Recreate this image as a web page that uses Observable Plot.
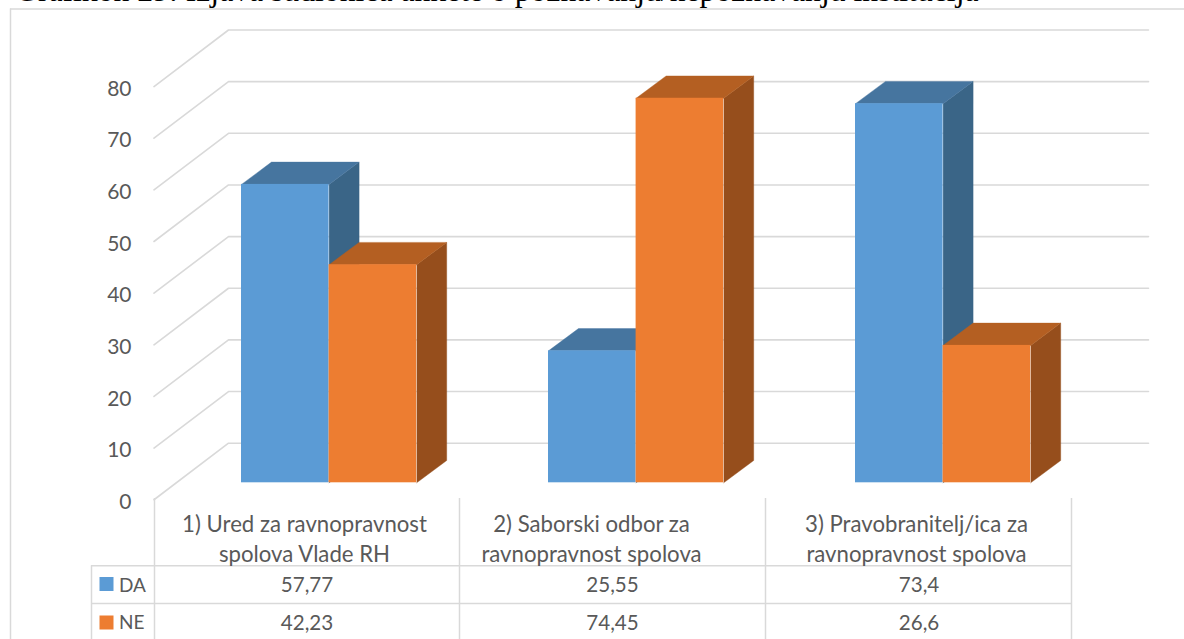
<!DOCTYPE html>
<html>
<head>
<meta charset="utf-8">
<script src="https://cdn.jsdelivr.net/npm/d3@7"></script>
<script src="https://cdn.jsdelivr.net/npm/@observablehq/plot@0.6"></script>
<style>
  html, body { margin: 0; padding: 0; background: #fff; overflow: hidden; }
  #wrap { position: relative; width: 1184px; height: 639px; overflow: hidden; }
  #title { position: absolute; left: 15px; top: -23px; font: 31.7px/28px "Liberation Serif", serif; color: #000; white-space: nowrap; z-index: 2; }
  svg { display: block; }
</style>
</head>
<body>
<div id="wrap">
  <div id="title">Grafikon 29: Izjava sudionica ankete o poznavanju/nepoznavanju institucija</div>
</div>
<script>
const categories = [
  "1) Ured za ravnopravnost\nspolova Vlade RH",
  "2) Saborski odbor za\nravnopravnost spolova",
  "3) Pravobranitelj/ica za\nravnopravnost spolova"
];
const seriesNames = ["DA", "NE"];
const daValues = [57.77, 25.55, 73.4];
const neValues = [42.23, 74.45, 26.6];
const tickValues = [0, 10, 20, 30, 40, 50, 60, 70, 80];

const W = 1184, H = 639;
const font = "Lato, Carlito, sans-serif";
const textColor = "#595959", gridColor = "#D9D9D9";
const palette = {
  DA: {front: "#5B9BD5", top: "#46759F", side: "#3A6587"},
  NE: {front: "#ED7D31", top: "#B45F22", side: "#964E1C"}
};

// Scale geometry: one x unit is a category pitch, one y unit is one value unit.
const pitch = 307, firstBar = 241, pxPerValue = 5.165, zeroPx = 442.7;
const u = px => (px - firstBar) / pitch;
const vAt = py => (zeroPx - py) / pxPerValue;
const barW = u(firstBar + 87.6);
const depthX = u(firstBar + 30), depthY = 22.3 / pxPerValue;
const base = vAt(482.3);

const bars = name => (name === "DA" ? daValues : neValues).map((value, i) => {
  const s = seriesNames.indexOf(name);
  const x1 = i + s * barW, x2 = x1 + barW, top = base + value;
  return {id: `${name}${i}`, x1, x2, y1: base, y2: top};
});
const sideFaces = name => bars(name).flatMap(b => [
  {id: b.id, x: b.x2, y: b.y1},
  {id: b.id, x: b.x2 + depthX, y: b.y1 + depthY},
  {id: b.id, x: b.x2 + depthX, y: b.y2 + depthY},
  {id: b.id, x: b.x2, y: b.y2}
]);
const topFaces = name => bars(name).flatMap(b => [
  {id: b.id, x: b.x1, y: b.y2},
  {id: b.id, x: b.x1 + depthX, y: b.y2 + depthY},
  {id: b.id, x: b.x2 + depthX, y: b.y2 + depthY},
  {id: b.id, x: b.x2, y: b.y2}
]);
const barMarks = name => {
  const c = palette[name];
  return [
    Plot.line(sideFaces(name), {x: "x", y: "y", z: "id", fill: c.side, stroke: c.side, strokeWidth: 0.4}),
    Plot.line(topFaces(name), {x: "x", y: "y", z: "id", fill: c.top, stroke: c.top, strokeWidth: 0.4}),
    Plot.rect(bars(name), {x1: "x1", x2: "x2", y1: "y1", y2: "y2", fill: c.front})
  ];
};

// Grid: a floor diagonal then the back-wall line, per tick.
const gridFrontX = u(153.5), gridBackX = u(228), gridEndX = u(1148), frontShift = 10.95;
const gridPaths = tickValues.flatMap(v => [
  {v, x: gridFrontX, y: v - frontShift},
  {v, x: gridBackX, y: v},
  {v, x: gridEndX, y: v}
]);

// Data table under the chart.
const tableCols = [154, 459, 765, 1071].map(u);
const tableLeft = u(91);
const rowY = [vAt(565.3), vAt(603)];
const tableTop = vAt(498), tableBottom = vAt(H);
const cellCenters = [306.5, 612, 918.5].map(u);
const categoryCenters = [304, 591, 916].map(u);
const rowTextY = [vAt(585), vAt(622.7)];
const format = v => String(v).replace(".", ",");
const cellRows = [daValues, neValues].flatMap((vals, r) =>
  vals.map((v, i) => ({x: cellCenters[i], y: rowTextY[r], label: format(v)})));
const legendRows = seriesNames.map((name, r) => ({name, y: rowTextY[r], sw: [vAt(583.5), vAt(622)][r]}));

const chart = Plot.plot({
  width: W, height: H,
  marginTop: 0, marginRight: 0, marginBottom: 0, marginLeft: 131,
  style: {fontFamily: font, background: "transparent", overflow: "hidden"},
  x: {domain: [u(0), u(W)], range: [0, W], axis: null},
  y: {domain: [vAt(H), vAt(0)], range: [H, 0]},
  marks: [
    // outer chart-area border
    Plot.ruleX([u(10)], {y1: vAt(8.5), y2: vAt(H), stroke: gridColor, strokeWidth: 1.5}),
    Plot.ruleY([vAt(8.5)], {x1: u(10), x2: u(W), stroke: gridColor, strokeWidth: 1.5}),
    Plot.line(gridPaths, {x: "x", y: "y", z: "v", stroke: gridColor, strokeWidth: 1.6}),
    Plot.axisY(tickValues, {anchor: "left", tickSize: 0, tickPadding: 0, dy: 59, fontSize: 21, color: textColor, label: null, tickFormat: d => String(d)}),
    ...barMarks("DA"),
    ...barMarks("NE"),
    // table lines
    Plot.ruleX(tableCols, {y1: tableTop, y2: tableBottom, stroke: gridColor, strokeWidth: 1.5}),
    Plot.ruleX([tableLeft], {y1: rowY[0], y2: tableBottom, stroke: gridColor, strokeWidth: 1.5}),
    Plot.ruleY(rowY, {x1: tableLeft, x2: tableCols[3], stroke: gridColor, strokeWidth: 1.5}),
    // table text
    Plot.text(categories, {x: (d, i) => categoryCenters[i], y: vAt(537), text: d => d, fontSize: 22.2, lineHeight: 1.34, fill: textColor}),
    Plot.text(cellRows, {x: "x", y: "y", text: "label", fontSize: 20.6, fill: textColor}),
    Plot.dot(legendRows, {x: u(106), y: "sw", symbol: "square", r: 7.9, fill: d => palette[d.name].front}),
    Plot.text(legendRows, {x: u(118.5), y: "y", text: "name", textAnchor: "start", fontSize: 19, fill: textColor})
  ]
});
document.getElementById("wrap").appendChild(chart);
</script>
</body>
</html>
